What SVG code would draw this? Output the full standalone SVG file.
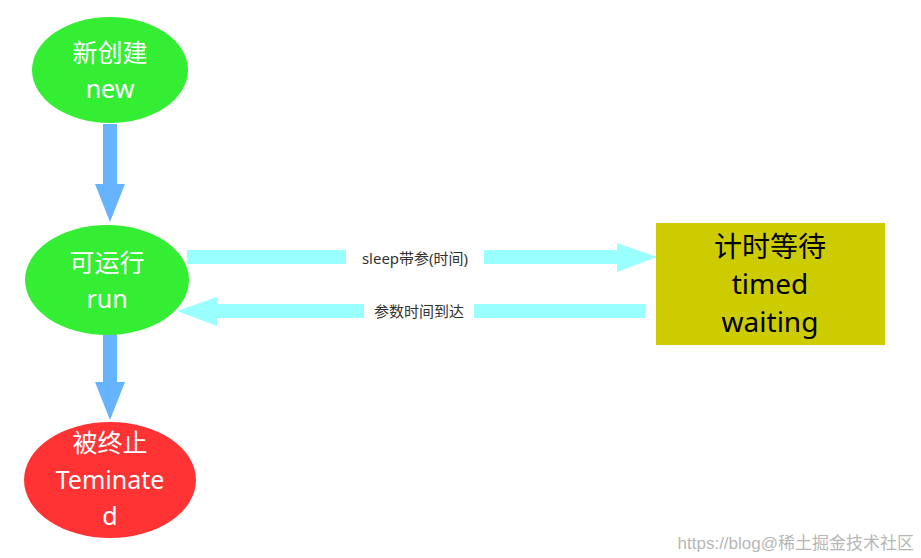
<svg xmlns="http://www.w3.org/2000/svg" width="921" height="558" viewBox="0 0 921 558">
<style>
.t{font-family:"Noto Sans","Noto Sans CJK SC",sans-serif;font-size:25px;fill:#fff;text-anchor:middle}
.b{font-family:"Noto Sans","Noto Sans CJK SC",sans-serif;font-size:28px;fill:#000;text-anchor:middle}
.l{font-family:"Noto Sans","Noto Sans CJK SC",sans-serif;font-size:15px;fill:#333;text-anchor:middle}
</style>
<rect width="921" height="558" fill="#fff"/>
<g id="connectors">
<rect x="103" y="124" width="14" height="62" fill="#66b3ff"/>
<polygon points="95,184 125,184 110,222" fill="#66b3ff"/>
<rect x="103" y="332" width="14" height="52" fill="#66b3ff"/>
<polygon points="95,382 125,382 110,420" fill="#66b3ff"/>
<rect x="187" y="250" width="432" height="14" fill="#99ffff"/>
<polygon points="617,243 657,257 617,272" fill="#99ffff"/>
<rect x="215" y="304" width="430" height="14" fill="#99ffff"/>
<polygon points="217,297 177,311 217,326" fill="#99ffff"/>
<rect x="346" y="247" width="138" height="22" fill="#fff"/>
<text class="l" x="415" y="264">sleep带参(时间)</text>
<rect x="364" y="300" width="110" height="22" fill="#fff"/>
<text class="l" x="419" y="317">参数时间到达</text>
</g>
<g id="new"><ellipse cx="110" cy="70" rx="78" ry="53" fill="#33ee33"/><text class="t" x="110" y="62">新创建</text><text class="t" x="110" y="98">new</text></g>
<g id="run"><ellipse cx="107" cy="280" rx="82" ry="55" fill="#33ee33"/><text class="t" x="107" y="272">可运行</text><text class="t" x="107" y="308">run</text></g>
<g id="term"><ellipse cx="110" cy="480" rx="86" ry="58" fill="#ff3333"/><text class="t" x="110" y="452">被终止</text><text class="t" x="110" y="489">Teminate</text><text class="t" x="110" y="525">d</text></g>
<g id="timed"><rect x="656" y="223" width="229" height="122" fill="#cccc00"/><text class="b" x="770" y="257">计时等待</text><text class="b" x="770" y="294">timed</text><text class="b" x="770" y="332">waiting</text></g>
<text x="914" y="549" font-family="Liberation Sans,Noto Sans CJK SC,sans-serif" font-size="17" fill="#999" text-anchor="end" opacity="0.7">https://blog@稀土掘金技术社区</text>
</svg>
